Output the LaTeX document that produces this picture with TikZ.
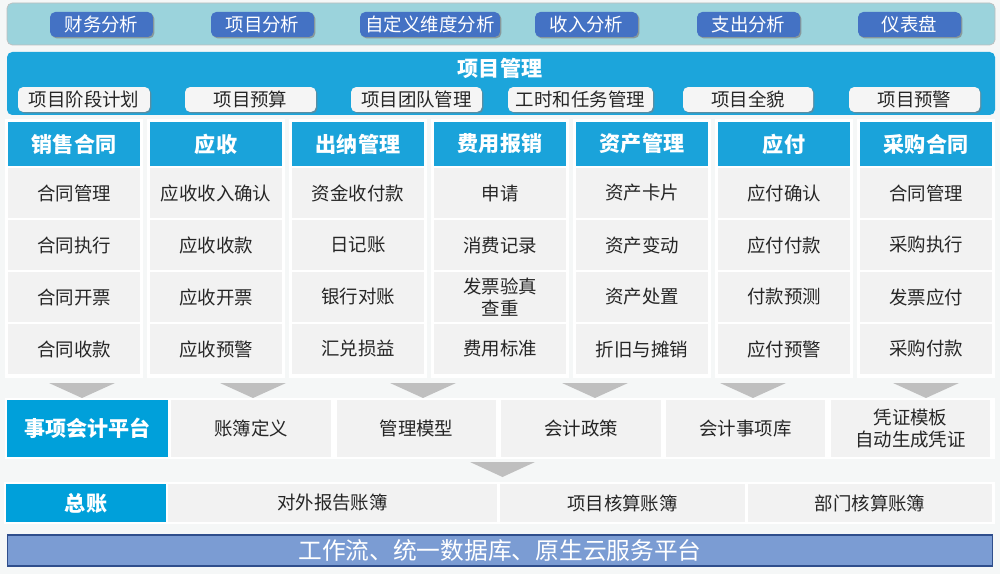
\documentclass[tikz,border=0pt]{standalone}
\usepackage{fontspec}
\setmainfont{Noto Sans CJK SC}
\usetikzlibrary{shadows}
\definecolor{bggray}{HTML}{F5F7F7}
\definecolor{barteal}{HTML}{9BD3DC}
\definecolor{btnblue}{HTML}{4472C4}
\definecolor{projblue}{HTML}{1CA5DB}
\definecolor{headblue}{HTML}{1AA3DA}
\definecolor{platblue}{HTML}{00A0DA}
\definecolor{cellgray}{HTML}{F2F2F2}
\definecolor{arrowgray}{HTML}{BFBFBF}
\definecolor{basefill}{HTML}{7B9CD3}
\definecolor{baseline}{HTML}{2F4E8C}
\begin{document}
\begin{tikzpicture}[x=0.02cm,y=-0.02cm,
  anabtn/.style={fill=btnblue, rounded corners=3pt, text=white, minimum height=0.5cm,
    inner sep=0pt, font=\fontsize{10.5}{12}\selectfont,
    drop shadow={opacity=0.7, shadow xshift=0.8pt, shadow yshift=-0.8pt}},
  subbtn/.style={fill=white!96!black, rounded corners=3pt, text=black!85, minimum height=0.5cm,
    inner sep=0pt, font=\fontsize{10.5}{12}\selectfont,
    drop shadow={opacity=0.6, shadow xshift=0.8pt, shadow yshift=-0.8pt}},
  head/.style={fill=headblue, text=white, minimum width=2.64cm, minimum height=0.88cm,
    inner sep=0pt, font=\fontsize{12}{14}\bfseries},
  cell/.style={fill=cellgray, text=black!85, inner sep=0pt, align=center,
    font=\fontsize{10.5}{12.5}\selectfont},
  plat/.style={fill=platblue, text=white, inner sep=0pt, font=\fontsize{12}{14}\bfseries}]
\useasboundingbox (0,0) rectangle (1000,574);
\fill[bggray] (0,0) rectangle (1000,574);

% analysis bar
\filldraw[fill=barteal, draw=black!25, rounded corners=3pt] (7,3) rectangle (995,45);
\foreach \i/\x/\w/\t in {1/101.5/2.06/财务分析, 2/262.5/2.06/项目分析, 3/430/2.8/自定义维度分析,
  4/586.5/2.06/收入分析, 5/748.5/2.06/支出分析, 6/909.5/2.06/仪表盘}{
  \node[anabtn, minimum width=\w cm] (ana\i) at (\x,24.5) {\t};
}

% project management
\fill[projblue, rounded corners=3pt] (7,52) rectangle (995,115);
\node[text=white, font=\fontsize{12}{14}\bfseries] (proj) at (500,68) {项目管理};
\foreach \i/\x/\w/\t in {1/84/2.64/项目阶段计划, 2/250.5/2.62/项目预算, 3/416.5/2.62/项目团队管理,
  4/580.5/2.9/工时和任务管理, 5/748/2.6/项目全貌, 6/914.5/2.62/项目预警}{
  \node[subbtn, minimum width=\w cm] (sub\i) at (\x,99.5) {\t};
}

% modules
\foreach \c/\h/\ra/\rb/\rc/\rd in {0/销售合同/合同管理/合同执行/合同开票/合同收款,
  1/应收/应收收入确认/应收收款/应收开票/应收预警,
  2/出纳管理/资金收付款/日记账/银行对账/汇兑损益,
  3/费用报销/申请/消费记录/{发票验真\\查重}/费用标准,
  4/资产管理/资产卡片/资产变动/资产处置/折旧与摊销,
  5/应付/应付确认/应付付款/付款预测/应付预警,
  6/采购合同/合同管理/采购执行/发票应付/采购付款}{
  \fill[white] (\c*142+5,119) rectangle (\c*142+143,378);
  \node[head] (head\c) at (\c*142+74,144) {\h};
  \foreach \r/\t in {0/\ra,1/\rb,2/\rc,3/\rd}{
    \node[cell, minimum width=2.64cm, minimum height=1cm] (cell\c-\r) at (\c*142+74,193+\r*52) {\t};
  }
}

% arrows down
\foreach \x in {82,253,423,595,753,926}{
  \fill[arrowgray] (\x-33,383) -- (\x+33,383) -- (\x,398) -- cycle;
}

% event accounting
\fill[white] (5,398) rectangle (995,459);
\node[plat, minimum width=3.22cm, minimum height=1.14cm] (evt) at (87.5,428.5) {事项会计平台};
\foreach \i/\x/\t in {1/251/账簿定义, 2/416.5/管理模型, 3/581/会计政策, 4/745.5/会计事项库,
  5/910.5/{凭证模板\\自动生成凭证}}{
  \node[cell, minimum width=3.2cm, minimum height=1.14cm] (evt\i) at (\x,428.5) {\t};
}
\fill[arrowgray] (470,462) -- (535,462) -- (502.5,477) -- cycle;

% general ledger
\fill[white] (4,482) rectangle (995,524);
\node[plat, minimum width=3.2cm, minimum height=0.76cm] (gl) at (86,503) {总账};
\foreach \i/\x/\w/\t in {1/332.5/6.58/对外报告账簿, 2/622.5/4.9/项目核算账簿, 3/870/4.88/部门核算账簿}{
  \node[cell, minimum width=\w cm, minimum height=0.76cm] (gl\i) at (\x,503) {\t};
}

% platform base
\node[fill=basefill, draw=baseline, line width=0.8pt, text=white, minimum width=19.7cm,
  minimum height=0.62cm, inner sep=0pt, font=\fontsize{13.5}{15}\selectfont] (base) at (500,550.5)
  {工作流、统一数据库、原生云服务平台};
\end{tikzpicture}
\end{document}
